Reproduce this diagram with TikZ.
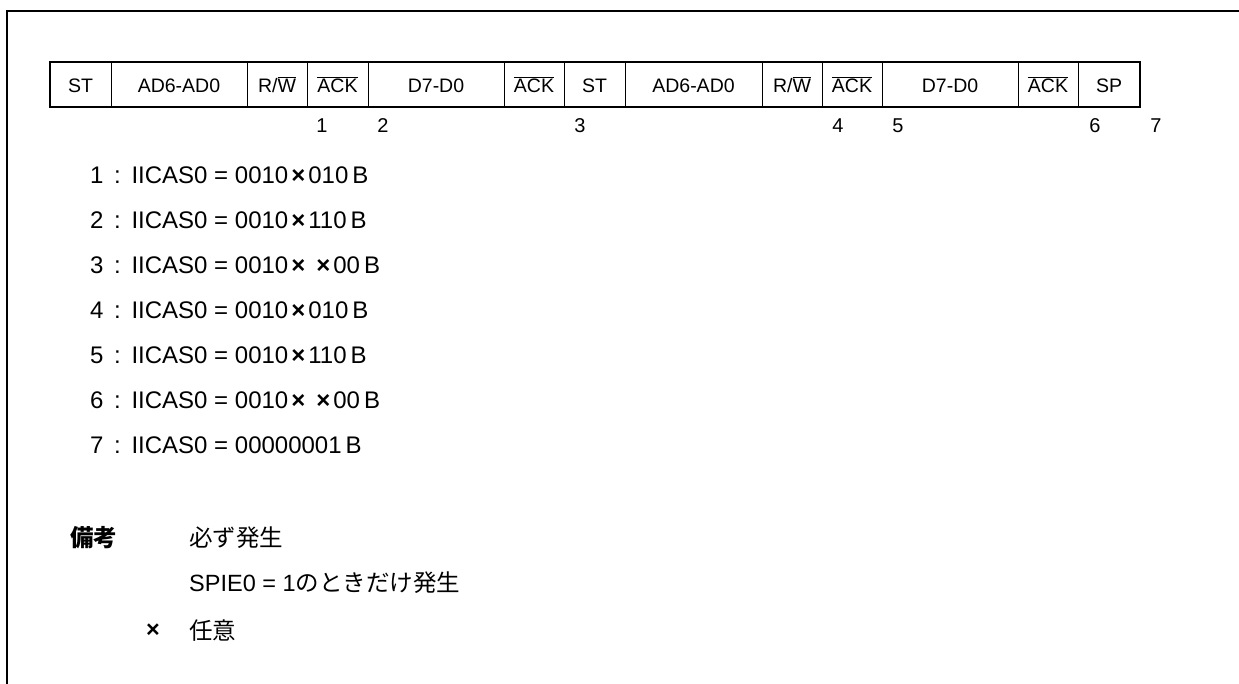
\documentclass[tikz,border=0pt]{standalone}
\usepackage{fontspec}
\setmainfont{Liberation Sans}
\newfontfamily\jpfont{Noto Sans CJK JP}
\usetikzlibrary{positioning}
\newcommand{\ackbar}{$\overline{\mbox{ACK}}$}
\newcommand{\rwbar}{R/$\overline{\mbox{W}}$}
\newcommand{\tms}{\kern3pt{\bfseries ×}\kern3pt}
\newcommand{\jcolon}{\makebox[28pt][c]{:}}

\begin{document}
\begin{tikzpicture}[x=1pt,y=-1pt,
    cell/.style={draw,line width=1pt,minimum height=45pt,inner sep=0pt,outer sep=0pt,anchor=west,
      text height=16pt,text depth=0pt,font=\fontsize{19.5}{22}\selectfont},
    numlbl/.style={inner sep=0pt,font=\fontsize{20}{22}\selectfont},
    listline/.style={anchor=west,inner sep=0pt,font=\fontsize{24}{26}\selectfont},
    note/.style={anchor=west,inner sep=0pt,font=\fontsize{23.5}{26}\selectfont}]
    \useasboundingbox (0,0) rectangle (1239,684);
    \draw[line width=2.4pt] (1239,11) -- (7,11) -- (7,684);
    \foreach \n/\x/\w/\t in {c1/50/61/ST, c2/111/136/AD6-AD0, c3/247/60/\rwbar, c4/307/61/\ackbar,
        c5/368/136/D7-D0, c6/504/60/\ackbar, c7/564/61/ST, c8/625/137/AD6-AD0, c9/762/60/\rwbar,
        c10/822/60/\ackbar, c11/882/136/D7-D0, c12/1018/60/\ackbar, c13/1078/62/SP}
      \node[cell,minimum width=\w] (\n) at (\x,84.5) {\t};
    \draw[line width=2.2pt] (c1.north west) rectangle (c13.south east);
    \foreach \n/\x in {1/322, 2/383, 3/580, 4/838, 5/898, 6/1095, 7/1156}
      \node[numlbl] (n\n) at (\x,126) {\n};
    \foreach \i/\v in {1/0010\tms 010, 2/0010\tms 110, 3/0010\tms\hspace{5pt}\tms 00, 4/0010\tms 010,
        5/0010\tms 110, 6/0010\tms\hspace{5pt}\tms 00, 7/00000001}
      \node[listline] (l\i) at (90,{130+45*\i}) {\i\jcolon IICAS0 = \v\,B};
    \node[note,font=\fontsize{23.5}{26}\selectfont\jpfont\bfseries] (bikou) at (70,538) {備考};
    \node[note] (r1) at (189,538) {\jpfont 必ず発生};
    \node[note] (r2) at (189,583) {SPIE0 = 1{\jpfont のときだけ発生}};
    \node[inner sep=0pt,font=\fontsize{23.5}{26}\selectfont\bfseries] (tx) at (153,631) {×};
    \node[note] (r3) at (189,631) {\jpfont 任意};
\end{tikzpicture}
\end{document}
